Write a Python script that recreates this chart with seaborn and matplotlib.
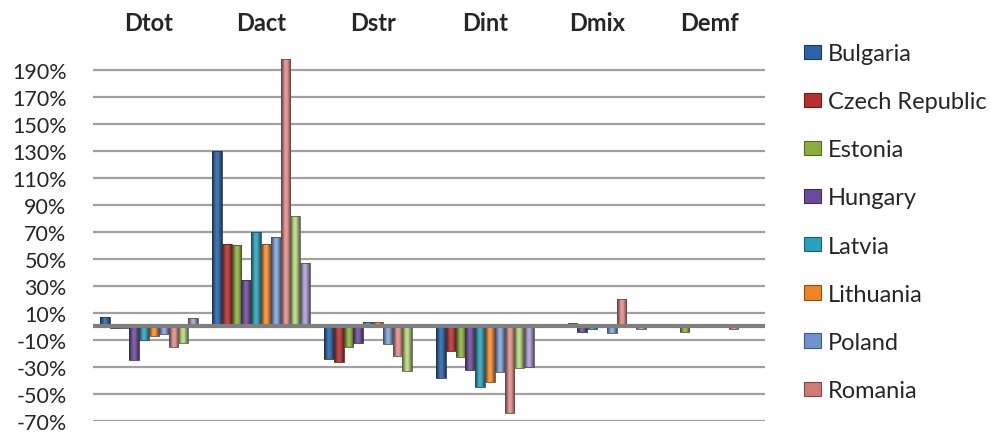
import numpy as np
import pandas as pd
import matplotlib
matplotlib.use("Agg")
import matplotlib.pyplot as plt
import matplotlib.colors as mcolors
from matplotlib.patches import Patch
import seaborn as sns

# Decomposition components (columns) and countries (series)
components = ["Dtot", "Dact", "Dstr", "Dint", "Dmix", "Demf"]
countries = ["Bulgaria", "Czech Republic", "Estonia", "Hungary", "Latvia",
             "Lithuania", "Poland", "Romania", "Slovakia", "Slovenia"]

# Percentage change per component, one list per country
bulgaria = [7, 130, -24, -38, 2, 0]
czech_republic = [-1, 61, -26, -18, 1, 2]
estonia = [-1, 60, -15, -23, 2.5, -4]
hungary = [-25, 34, -12, -32, -4, 0]
latvia = [-10, 70, 3, -45, -2, 0]
lithuania = [-7, 61, 3, -41, 0, 0]
poland = [-6, 66, -13, -34, -5, 0]
romania = [-15, 198, -22, -64, 20, -2]
slovakia = [-12, 82, -33, -31, 2, -0.5]
slovenia = [6, 47, 2, -30, -2, 0.5]

series = [bulgaria, czech_republic, estonia, hungary, latvia,
          lithuania, poland, romania, slovakia, slovenia]

colors = ["#2A64A8", "#B5302E", "#8AAE3E", "#6A4A9A", "#2AA0BC",
          "#EE8424", "#6E93CF", "#D07A78", "#A9C76F", "#9A8ABF"]

y_ticks = list(range(-70, 191, 20))

df = pd.DataFrame(
    [(comp, country, val)
     for country, vals in zip(countries, series)
     for comp, val in zip(components, vals)],
    columns=["component", "country", "value"],
)

sns.set_theme(style="white")
plt.rcParams["font.family"] = ["Lato", "DejaVu Sans"]

fig = plt.figure(figsize=(9.91, 4.35), dpi=100)
ax = fig.add_axes([93 / 991, 13 / 435, 672 / 991, 365 / 435])

sns.barplot(data=df, x="component", y="value", hue="country",
            order=components, hue_order=countries, palette=colors,
            width=0.875, dodge=True, ax=ax, legend=False,
            edgecolor="none", linewidth=0)

# Give each bar a shaded, bevelled look: dark edges, light centre
profile = np.array([0.55, 0.8, 1.08, 1.2, 1.1, 0.88, 0.62])
bars = [p for p in ax.patches]
for patch in bars:
    x0, y0 = patch.get_x(), patch.get_y()
    w, h = patch.get_width(), patch.get_height()
    if w == 0 or h == 0:
        continue
    base = np.array(mcolors.to_rgb(patch.get_facecolor()))
    row = np.clip(base[None, :] * profile[:, None], 0, 1)
    img = np.repeat(row[None, :, :], 2, axis=0)
    ylo, yhi = min(y0, y0 + h), max(y0, y0 + h)
    im = ax.imshow(img, extent=(x0, x0 + w, ylo, yhi), aspect="auto",
                   interpolation="bilinear", zorder=3)
    im.set_clip_path(patch)
    patch.set_edgecolor(tuple(base * 0.55))
    patch.set_linewidth(0.6)
    patch.set_zorder(3.2)
    patch.set_facecolor("none")

ax.set_ylim(-70, 200)
ax.set_xlim(-0.5, len(components) - 0.5)
ax.set_yticks(y_ticks)
ax.set_yticklabels([f"{t}%" for t in y_ticks])
ax.set_xlabel("")
ax.set_ylabel("")

ax.grid(False)
for t in y_ticks:
    ax.axhline(t, color="#A0A0A0", linewidth=1.6, zorder=0.5)
ax.axhline(0, color="#7F7F7F", linewidth=3, zorder=5)

for s in ax.spines.values():
    s.set_visible(False)

ax.xaxis.tick_top()
ax.tick_params(axis="x", length=0, pad=16, labelsize=17)
ax.tick_params(axis="y", length=0, pad=19, labelsize=15.5)
for lbl in ax.get_xticklabels():
    lbl.set_fontweight("bold")

handles = [Patch(facecolor=c, edgecolor=mcolors.to_hex(np.array(mcolors.to_rgb(c)) * 0.6),
                 linewidth=0.8, label=n)
           for c, n in zip(colors[:8], countries[:8])]
fig.legend(handles=handles, loc="upper left",
           bbox_to_anchor=(804 / 991, (435 - 44) / 435),
           frameon=False, fontsize=17, labelspacing=1.15,
           handlelength=0.72, handleheight=0.55, handletextpad=0.3,
           borderpad=0, borderaxespad=0)

fig.savefig("out.png", dpi=100)
